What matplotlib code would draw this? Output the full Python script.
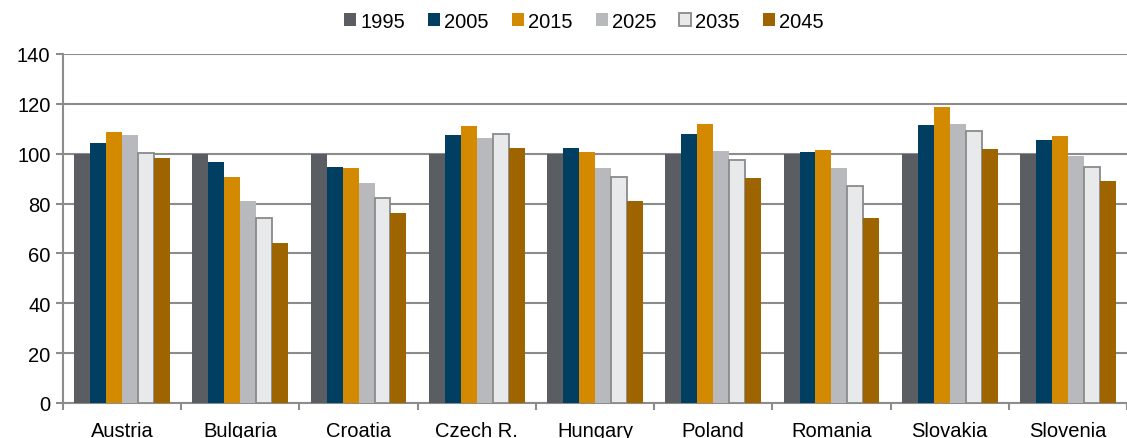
import numpy as np
import matplotlib.pyplot as plt

plt.rcParams['font.family'] = ['Liberation Sans', 'DejaVu Sans']

# Datos
paises = ['Austria', 'Bulgaria', 'Croatia', 'Czech R.', 'Hungary',
          'Poland', 'Romania', 'Slovakia', 'Slovenia']
anios = ['1995', '2005', '2015', '2025', '2035', '2045']
v1995 = [100, 100, 100, 100, 100, 100, 100, 100, 100]
v2005 = [104.3, 96.8, 94.8, 107.6, 102.3, 107.8, 100.6, 111.6, 105.6]
v2015 = [108.6, 90.5, 94.3, 111.0, 100.6, 111.9, 101.5, 118.6, 107.0]
v2025 = [107.5, 80.9, 88.1, 106.2, 94.1, 101.2, 94.1, 112.0, 99.2]
v2035 = [100.4, 74.1, 82.2, 108.0, 90.5, 97.6, 87.0, 109.2, 94.8]
v2045 = [98.1, 64.2, 76.1, 102.3, 81.0, 90.1, 74.2, 101.9, 89.2]
series = [v1995, v2005, v2015, v2025, v2035, v2045]

colores = ['#5a5d62', '#003f62', '#d48a00', '#b8b9bc', '#e8e9eb', '#9e6400']
bordes = [None, None, None, None, '#8a8a8a', None]

fig = plt.figure(figsize=(11.27, 4.39), dpi=100)
ax = fig.add_axes([63 / 1127, 35 / 439, 1 - 63 / 1127, 349 / 439])

x = np.arange(len(paises))
w = 0.135
for i, (vals, c, e) in enumerate(zip(series, colores, bordes)):
    pos = x + (i - 2.5) * w
    if e:
        ax.bar(pos, vals, w, color=c, edgecolor=e, linewidth=1.3, label=anios[i], zorder=3)
    else:
        ax.bar(pos, vals, w, color=c, label=anios[i], zorder=3)

ax.set_ylim(0, 140)
ax.set_yticks(np.arange(0, 141, 20))
ax.set_xlim(-0.5, len(paises) - 0.5)
ax.yaxis.grid(True, color='#8c8c8c', linewidth=1.5, zorder=0)
ax.set_axisbelow(True)

for s in ['top', 'right']:
    ax.spines[s].set_visible(False)
ax.spines['left'].set_color('#8c8c8c')
ax.spines['left'].set_linewidth(1.5)
ax.spines['bottom'].set_color('#8c8c8c')
ax.spines['bottom'].set_linewidth(1.5)

ax.set_xticks(x)
ax.set_xticklabels(paises)
ax.set_xticks(np.arange(-0.5, len(paises), 1), minor=True)
ax.tick_params(axis='x', which='major', length=0, pad=13, labelsize=14.5)
ax.tick_params(axis='x', which='minor', length=5, width=1.5, color='#8c8c8c')
ax.tick_params(axis='y', length=5, width=1.5, color='#8c8c8c', labelsize=14.5, pad=4)

fig.legend(loc='center', bbox_to_anchor=(584 / 1127, 1 - 22 / 439), ncol=6,
           frameon=False, fontsize=14.5, handlelength=0.6, handleheight=0.6,
           handletextpad=0.2, columnspacing=1.15)

plt.savefig('out.png', dpi=100)
